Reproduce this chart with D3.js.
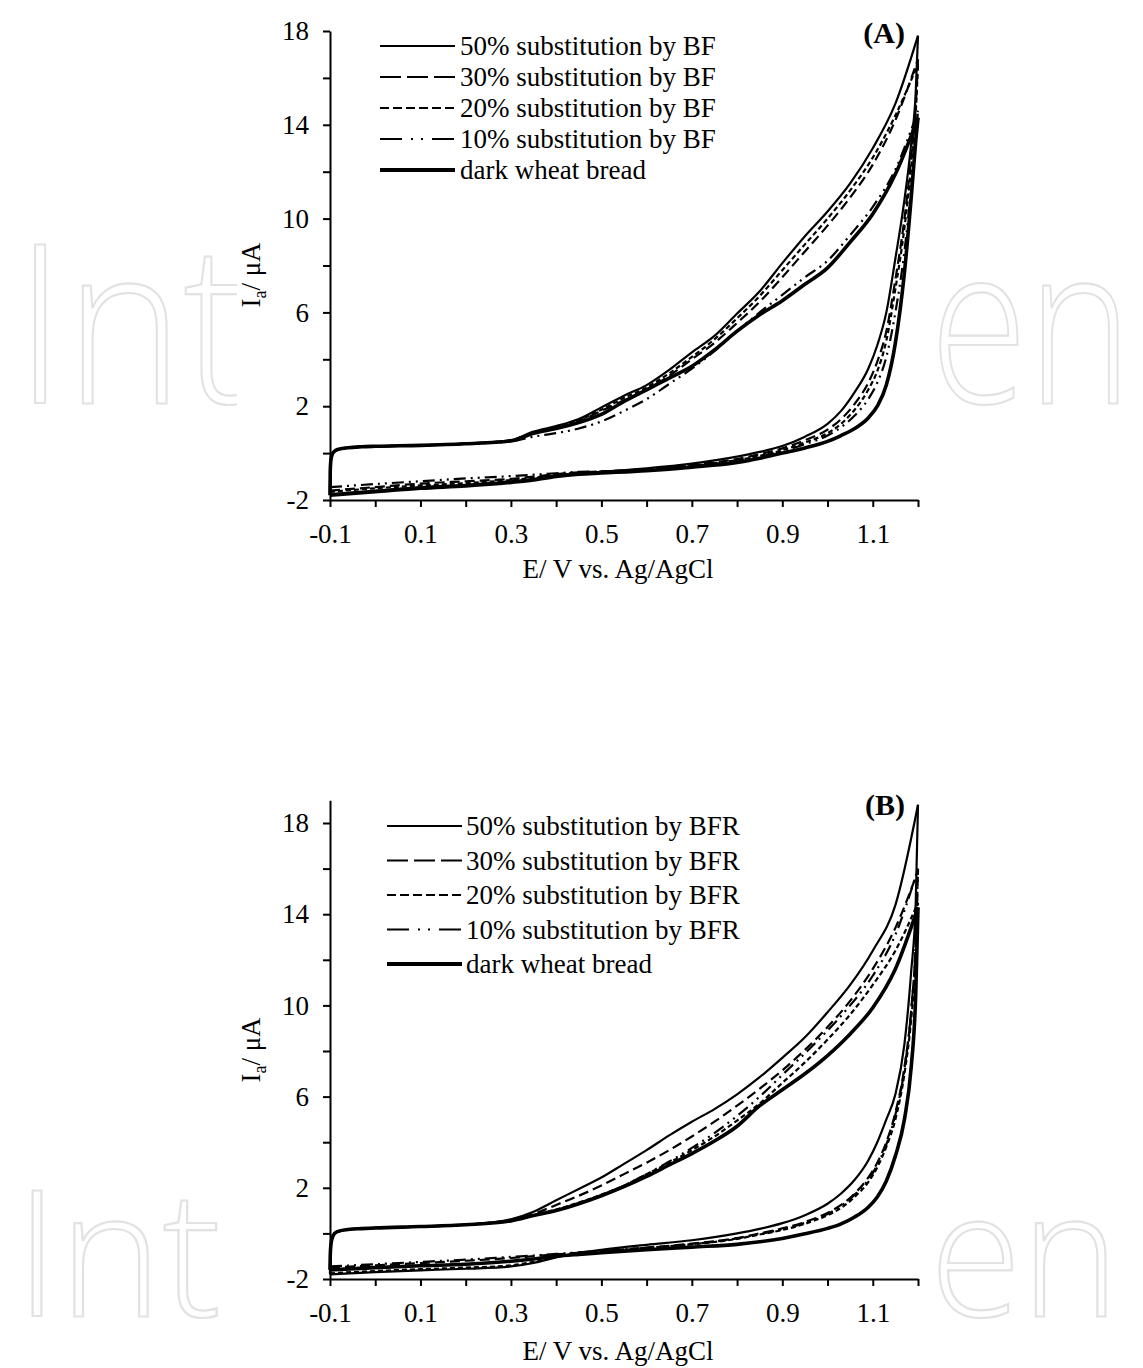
<!DOCTYPE html>
<html>
<head>
<meta charset="utf-8">
<script src="https://cdn.jsdelivr.net/npm/d3@7"></script>
<style>
  body { margin: 0; background: #fff; }
  svg { display: block; }
</style>
</head>
<body>
<svg id="chart" width="1143" height="1368"></svg>
<script>
// ---------------- DATA ----------------
// Potential grids (V vs Ag/AgCl): forward (anodic) scan and reverse scan (listed ascending)
const E_FWD = [-0.1, -0.0995, -0.098, -0.095, -0.09, -0.08, -0.06, -0.03, 0.0, 0.1, 0.2,
               0.3, 0.35, 0.4, 0.45, 0.5, 0.55, 0.6, 0.65, 0.7, 0.75, 0.8, 0.85, 0.9, 0.95,
               1.0, 1.05, 1.1, 1.15, 1.2];
const E_REV = [-0.1, 0.0, 0.1, 0.2, 0.3, 0.35, 0.4, 0.45, 0.5, 0.6, 0.7, 0.8, 0.85, 0.9, 0.95,
               1.0, 1.03, 1.06, 1.09, 1.11, 1.13, 1.15, 1.17, 1.185, 1.195, 1.2];

// Panel (A) – BF substitution, current in µA
const SERIES_A = ["50% substitution by BF", "30% substitution by BF", "20% substitution by BF",
                  "10% substitution by BF", "dark wheat bread"];
const aFwd50   = [-1.75, -0.8, -0.3, -0.05, 0.08, 0.17, 0.23, 0.27, 0.29, 0.33, 0.40,
                  0.55, 0.92, 1.15, 1.45, 1.95, 2.45, 2.9, 3.55, 4.3, 5.0, 5.95, 6.9, 8.1, 9.25, 10.3, 11.5, 13.0, 14.9, 17.8];
const aFwd30   = [-1.6, -0.8, -0.3, -0.05, 0.08, 0.17, 0.23, 0.27, 0.29, 0.33, 0.40,
                  0.54, 0.85, 1.05, 1.35, 1.8, 2.25, 2.7, 3.3, 4.0, 4.7, 5.55, 6.45, 7.5, 8.6, 9.7, 10.9, 12.3, 14.2, 16.8];
const aFwd20   = [-1.65, -0.8, -0.3, -0.05, 0.08, 0.17, 0.23, 0.27, 0.29, 0.33, 0.40,
                  0.55, 0.88, 1.1, 1.4, 1.85, 2.35, 2.8, 3.4, 4.1, 4.85, 5.75, 6.7, 7.8, 8.9, 10.0, 11.2, 12.6, 14.4, 16.6];
const aFwd10   = [-1.45, -0.8, -0.3, -0.05, 0.08, 0.17, 0.23, 0.27, 0.29, 0.33, 0.40,
                  0.5, 0.7, 0.85, 1.05, 1.35, 1.8, 2.3, 2.95, 3.6, 4.35, 5.2, 6.0, 6.75, 7.5, 8.2, 9.3, 10.5, 12.1, 14.6];
const aFwdDark = [-1.8, -0.8, -0.3, -0.05, 0.08, 0.17, 0.23, 0.27, 0.29, 0.33, 0.40,
                  0.52, 0.85, 1.05, 1.3, 1.65, 2.2, 2.7, 3.2, 3.7, 4.4, 5.2, 5.9, 6.5, 7.2, 7.9, 9.0, 10.2, 11.9, 14.3];
const aRev50   = [-1.75, -1.6, -1.45, -1.35, -1.2, -1.1, -0.95, -0.85, -0.8, -0.65, -0.45, -0.15, 0.05, 0.3, 0.7,
                  1.25, 1.8, 2.6, 3.6, 4.6, 6.0, 8.3, 10.8, 13.2, 15.4, 17.8];
const aRev30   = [-1.6, -1.45, -1.3, -1.2, -1.1, -1.0, -0.9, -0.82, -0.78, -0.68, -0.5, -0.25, -0.05, 0.2, 0.55,
                  1.0, 1.45, 2.1, 3.0, 3.9, 5.2, 7.4, 10.0, 12.6, 14.8, 16.8];
const aRev20   = [-1.65, -1.5, -1.38, -1.28, -1.15, -1.05, -0.92, -0.84, -0.8, -0.7, -0.53, -0.3, -0.12, 0.12, 0.45,
                  0.85, 1.25, 1.85, 2.7, 3.5, 4.8, 7.0, 9.6, 12.2, 14.5, 16.6];
const aRev10   = [-1.45, -1.32, -1.2, -1.08, -0.98, -0.92, -0.86, -0.8, -0.78, -0.7, -0.55, -0.32, -0.15, 0.08, 0.38,
                  0.75, 1.1, 1.6, 2.3, 3.0, 4.1, 6.0, 8.6, 11.3, 13.3, 14.6];
const aRevDark = [-1.8, -1.65, -1.5, -1.4, -1.25, -1.15, -1.0, -0.9, -0.85, -0.75, -0.6, -0.4, -0.22, 0.0, 0.22,
                  0.5, 0.75, 1.05, 1.5, 2.0, 2.9, 4.7, 7.7, 10.9, 13.3, 14.3];

// Panel (B) – BFR substitution, current in µA
const SERIES_B = ["50% substitution by BFR", "30% substitution by BFR", "20% substitution by BFR",
                  "10% substitution by BFR", "dark wheat bread"];
const bFwd50   = [-1.8, -1.0, -0.5, -0.2, 0.0, 0.1, 0.17, 0.21, 0.24, 0.3, 0.38,
                  0.62, 0.95, 1.45, 1.95, 2.45, 3.05, 3.65, 4.3, 4.9, 5.45, 6.1, 6.85, 7.7, 8.6, 9.7, 10.9, 12.4, 14.4, 18.8];
const bFwd30   = [-1.5, -1.0, -0.5, -0.2, 0.0, 0.1, 0.17, 0.21, 0.24, 0.3, 0.38,
                  0.6, 0.85, 1.25, 1.65, 2.1, 2.6, 3.1, 3.65, 4.25, 4.9, 5.6, 6.35, 7.15, 8.05, 9.05, 10.2, 11.6, 13.4, 15.9];
const bFwd20   = [-1.75, -1.0, -0.5, -0.2, 0.0, 0.1, 0.17, 0.21, 0.24, 0.3, 0.38,
                  0.58, 0.8, 1.05, 1.35, 1.7, 2.1, 2.6, 3.1, 3.65, 4.25, 4.95, 5.7, 6.6, 7.5, 8.5, 9.6, 10.9, 12.4, 14.5];
const bFwd10   = [-1.45, -1.0, -0.5, -0.2, 0.0, 0.1, 0.17, 0.21, 0.24, 0.3, 0.38,
                  0.56, 0.78, 1.02, 1.32, 1.68, 2.1, 2.6, 3.15, 3.75, 4.4, 5.15, 6.0, 6.95, 7.9, 8.9, 10.0, 11.3, 13.1, 16.0];
const bFwdDark = [-1.6, -1.0, -0.5, -0.2, 0.0, 0.1, 0.17, 0.21, 0.24, 0.3, 0.38,
                  0.55, 0.78, 1.0, 1.3, 1.65, 2.05, 2.5, 3.0, 3.5, 4.05, 4.7, 5.6, 6.3, 7.0, 7.8, 8.75, 9.9, 11.6, 14.3];
const bRev50   = [-1.8, -1.7, -1.62, -1.55, -1.45, -1.3, -1.05, -0.85, -0.72, -0.5, -0.3, 0.0, 0.2, 0.45, 0.8,
                  1.3, 1.75, 2.35, 3.2, 4.0, 5.0, 6.1, 8.3, 11.5, 14.5, 18.8];
const bRev30   = [-1.5, -1.4, -1.3, -1.2, -1.08, -1.0, -0.92, -0.85, -0.78, -0.62, -0.45, -0.2, 0.0, 0.22, 0.5,
                  0.9, 1.25, 1.75, 2.45, 3.1, 4.0, 5.3, 7.3, 9.8, 12.8, 15.9];
const bRev20   = [-1.75, -1.65, -1.57, -1.5, -1.4, -1.25, -1.02, -0.88, -0.8, -0.64, -0.48, -0.24, -0.05, 0.15, 0.42,
                  0.8, 1.12, 1.6, 2.25, 2.9, 3.8, 5.0, 7.0, 9.4, 12.0, 14.5];
const bRev10   = [-1.45, -1.35, -1.25, -1.15, -1.03, -0.97, -0.9, -0.83, -0.77, -0.63, -0.47, -0.22, -0.03, 0.18, 0.46,
                  0.85, 1.2, 1.7, 2.35, 3.0, 3.9, 5.2, 7.2, 9.8, 12.8, 16.0];
const bRevDark = [-1.6, -1.5, -1.42, -1.35, -1.22, -1.12, -1.0, -0.92, -0.85, -0.72, -0.6, -0.48, -0.37, -0.22, -0.02,
                  0.22, 0.42, 0.72, 1.15, 1.6, 2.3, 3.4, 5.0, 7.3, 10.5, 14.3];

// Axis ticks
const X_TICKS = [-0.1, 0.0, 0.1, 0.2, 0.3, 0.4, 0.5, 0.6, 0.7, 0.8, 0.9, 1.0, 1.1, 1.2];
const X_LABELS = ["-0.1", "", "0.1", "", "0.3", "", "0.5", "", "0.7", "", "0.9", "", "1.1", ""];
const Y_TICKS = [-2, 0, 2, 4, 6, 8, 10, 12, 14, 16, 18];
const Y_LABELS = ["-2", "", "2", "", "6", "", "10", "", "14", "", "18"];
const X_TITLE = "E/ V vs. Ag/AgCl";
const PANEL_TAGS = ["(A)", "(B)"];
const WATERMARK = ["Int", "en"];

// ---------------- STYLES / LAYOUT ----------------
const DASH_PLOT   = [null, "10,5", "5,3", "12,5,2,5,2,5", null];
const DASH_LEGEND = [null, "21,6", "9,4", "22,9,2,8,2,9", null];
const WIDTHS      = [2.2, 2.2, 2.2, 2.2, 3.6];
const SERIF = "'Liberation Serif', 'Times New Roman', serif";

const svg = d3.select("#chart");
svg.append("rect").attr("width", 1143).attr("height", 1368).attr("fill", "#fff");

// Watermark (outlined), mostly hidden behind the chart area
const wm = svg.append("g").attr("fill", "none").attr("stroke", "#e2e2e2").attr("stroke-width", 2.2)
  .style("font-family", "'Open Sans', 'DejaVu Sans', sans-serif").style("font-weight", 300);
[[403, 222, 0.9, 0.8], [1316, 175, 1.0, 0.95]].forEach(([by, fs, s1, s2]) => {
  wm.append("text").attr("transform", `translate(15,${by}) scale(${s1},1)`).style("font-size", fs + "px").text(WATERMARK[0]);
  wm.append("text").attr("transform", `translate(930,${by}) scale(${s2},1)`).style("font-size", fs + "px").text(WATERMARK[1]);
});
svg.append("rect").attr("x", 237).attr("y", 0).attr("width", 689).attr("height", 1368).attr("fill", "#fff");

const panels = [
  { names: SERIES_A, fwd: [aFwd50, aFwd30, aFwd20, aFwd10, aFwdDark], rev: [aRev50, aRev30, aRev20, aRev10, aRevDark],
    yDom: [-2, 18], yRange: [500, 31], legX: 380, legTextX: 460, legY0: 46, legDy: 31,
    xTitleY: 578, yTitleY: 275, tag: PANEL_TAGS[0], tagY: 43 },
  { names: SERIES_B, fwd: [bFwd50, bFwd30, bFwd20, bFwd10, bFwdDark], rev: [bRev50, bRev30, bRev20, bRev10, bRevDark],
    yDom: [-2, 19], yRange: [1279, 800.2], legX: 387, legTextX: 466, legY0: 826, legDy: 34.5,
    xTitleY: 1360, yTitleY: 1050, tag: PANEL_TAGS[1], tagY: 815 }
];

panels.forEach(p => {
  const x = d3.scaleLinear().domain([-0.1, 1.2]).range([330, 918]);
  const y = d3.scaleLinear().domain(p.yDom).range(p.yRange);
  const g = svg.append("g");

  // curves
  const line = d3.line().x(d => x(d[0])).y(d => y(d[1])).curve(d3.curveMonotoneX);
  for (let i = p.names.length - 1; i >= 0; i--) {
    const fwdPts = E_FWD.map((e, k) => [e, p.fwd[i][k]]);
    const revPts = E_REV.map((e, k) => [e, p.rev[i][k]]);
    [fwdPts, revPts].forEach(pts => {
      g.append("path").attr("d", line(pts)).attr("fill", "none").attr("stroke", "#000")
        .attr("stroke-width", WIDTHS[i]).attr("stroke-linejoin", "round")
        .attr("stroke-dasharray", DASH_PLOT[i]);
    });
  }

  // axes
  const xAxis = d3.axisBottom(x).tickValues(X_TICKS).tickSize(7).tickSizeOuter(0).tickPadding(16.8)
    .tickFormat((d, i) => X_LABELS[i]);
  const yAxis = d3.axisLeft(y).tickValues(Y_TICKS).tickSize(7).tickSizeOuter(0).tickPadding(14)
    .tickFormat((d, i) => Y_LABELS[i]);
  const xg = g.append("g").attr("transform", `translate(0,${y(-2)})`).call(xAxis);
  const yg = g.append("g").attr("transform", `translate(330,0)`).call(yAxis);
  [xg, yg].forEach(ax => {
    ax.select(".domain").attr("stroke", "#000").attr("stroke-width", 2);
    ax.selectAll(".tick line").attr("stroke", "#000").attr("stroke-width", 2);
    ax.selectAll(".tick text").attr("fill", "#000").style("font-family", SERIF).style("font-size", "27px");
  });

  // axis titles
  g.append("text").attr("x", 618).attr("y", p.xTitleY).attr("text-anchor", "middle")
    .style("font-family", SERIF).style("font-size", "27px").text(X_TITLE);
  const yt = g.append("text").attr("transform", `translate(260,${p.yTitleY}) rotate(-90)`).attr("text-anchor", "middle")
    .style("font-family", SERIF).style("font-size", "27px");
  yt.append("tspan").text("I");
  yt.append("tspan").attr("dy", 6).style("font-size", "18px").text("a");
  yt.append("tspan").attr("dy", -6).text("/ \u03bcA");

  // panel tag
  g.append("text").attr("x", 905).attr("y", p.tagY).attr("text-anchor", "end")
    .style("font-family", SERIF).style("font-size", "30px").style("font-weight", "bold").text(p.tag);

  // legend
  p.names.forEach((name, i) => {
    const yc = p.legY0 + i * p.legDy;
    g.append("line").attr("x1", p.legX).attr("x2", p.legX + 75).attr("y1", yc).attr("y2", yc)
      .attr("stroke", "#000").attr("stroke-width", i === 4 ? 4 : 2.2).attr("stroke-dasharray", DASH_LEGEND[i]);
    g.append("text").attr("x", p.legTextX).attr("y", yc + 9)
      .style("font-family", SERIF).style("font-size", "27px").text(name);
  });
});
</script>
</body>
</html>
